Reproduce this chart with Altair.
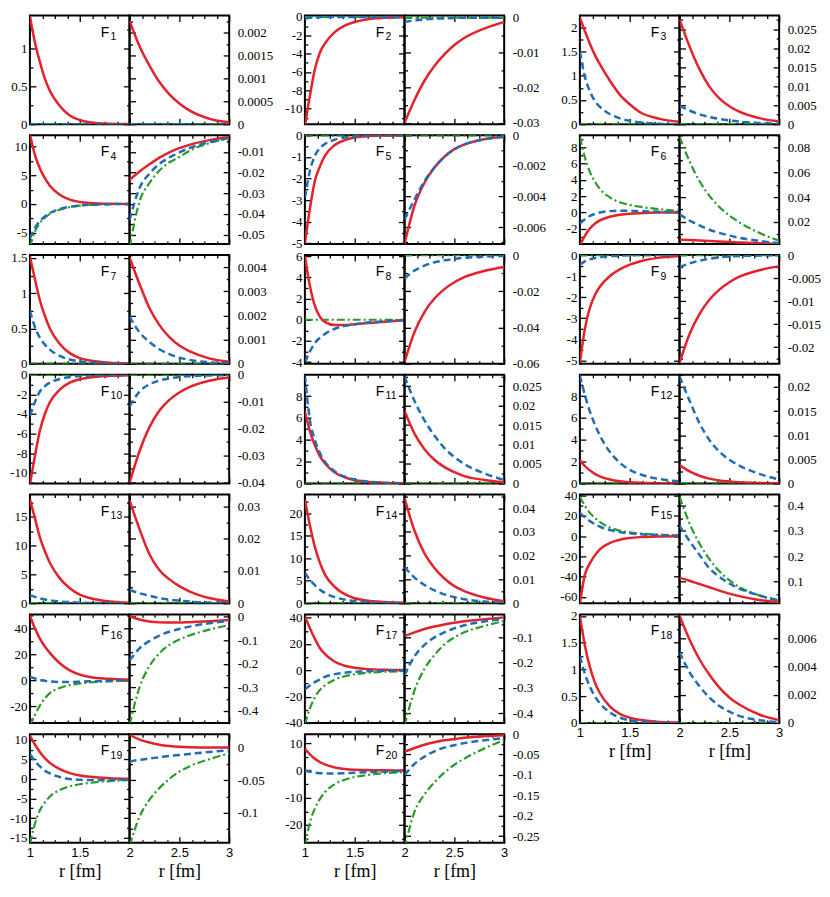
import math
import altair as alt
import pandas as pd

# ---------------- sample radii ----------------
R_LEFT = [1.0, 1.05, 1.1, 1.15, 1.2, 1.3, 1.4, 1.5, 1.6, 1.8, 2.0]
R_RIGHT = [2.0, 2.1, 2.2, 2.3, 2.4, 2.5, 2.6, 2.8, 3.0]
ZERO_L = [0, 0, 0, 0, 0, 0, 0, 0, 0, 0, 0]
ZERO_R = [0, 0, 0, 0, 0, 0, 0, 0, 0]

# ---------------- F1 ----------------
F1_L_DOMAIN = [0, 1.43]
F1_L_STEP = 0.5
F1_L_RED = [1.42, 1.08, 0.82, 0.6, 0.44, 0.24, 0.115, 0.055, 0.026, 0.006, 0.001]
F1_L_BLUE = ZERO_L
F1_L_GREEN = ZERO_L
F1_R_DOMAIN = [0, 0.00237]
F1_R_STEP = 0.0005
F1_R_RED = [0.00226, 0.0017, 0.00128, 0.00092, 0.00065, 0.00045, 0.0003, 0.00012, 0.00004]
F1_R_BLUE = ZERO_R
F1_R_GREEN = ZERO_R

# ---------------- F2 ----------------
F2_L_DOMAIN = [-11.7, 0.15]
F2_L_STEP = 2
F2_L_RED = [-11.9, -8.6, -5.7, -3.9, -2.9, -1.65, -0.95, -0.55, -0.3, -0.1, -0.03]
F2_L_BLUE = [-0.2, -0.1, -0.05, -0.02, 0, 0, 0, 0, 0, 0, 0]
F2_L_GREEN = ZERO_L
F2_R_DOMAIN = [-0.0304, 0.0006]
F2_R_STEP = 0.01
F2_R_RED = [-0.0300, -0.0235, -0.0180, -0.0138, -0.0105, -0.0078, -0.0058, -0.0031, -0.0012]
F2_R_BLUE = [-0.0012, -0.0008, -0.0005, -0.0003, -0.0002, -0.0001, 0, 0, 0]
F2_R_GREEN = ZERO_R

# ---------------- F3 ----------------
F3_L_DOMAIN = [0, 2.24]
F3_L_STEP = 0.5
F3_L_RED = [2.2, 1.92, 1.66, 1.43, 1.24, 0.9, 0.61, 0.41, 0.25, 0.11, 0.05]
F3_L_BLUE = [1.5, 0.98, 0.68, 0.48, 0.36, 0.21, 0.12, 0.07, 0.04, 0.01, 0.0]
F3_L_GREEN = ZERO_L
F3_R_DOMAIN = [0, 0.0286]
F3_R_STEP = 0.005
F3_R_RED = [0.0276, 0.0205, 0.0145, 0.0099, 0.0068, 0.0047, 0.0033, 0.0016, 0.0007]
F3_R_BLUE = [0.0048, 0.0036, 0.0026, 0.0019, 0.0014, 0.001, 0.0007, 0.0003, 0.0001]
F3_R_GREEN = ZERO_R

# ---------------- F4 ----------------
F4_L_DOMAIN = [-7, 12]
F4_L_STEP = 5
F4_L_RED = [12.2, 8.6, 6.2, 4.5, 3.2, 1.6, 0.75, 0.35, 0.16, 0.03, 0.005]
F4_L_BLUE = [-6.0, -4.2, -3.0, -2.2, -1.6, -0.9, -0.5, -0.27, -0.15, -0.04, 0.0]
F4_L_GREEN = [-7.5, -4.8, -3.3, -2.4, -1.75, -1.0, -0.55, -0.3, -0.17, -0.05, 0.0]
F4_R_DOMAIN = [-0.0545, -0.002]
F4_R_STEP = 0.01
F4_R_RED = [-0.0236, -0.0195, -0.016, -0.0128, -0.0102, -0.0082, -0.0066, -0.0043, -0.0028]
F4_R_BLUE = [-0.043, -0.0275, -0.0205, -0.0158, -0.0127, -0.0102, -0.0082, -0.0053, -0.0033]
F4_R_GREEN = [-0.056, -0.034, -0.025, -0.019, -0.015, -0.0125, -0.0095, -0.0058, -0.0035]

# ---------------- F5 ----------------
F5_L_DOMAIN = [-5.03, 0]
F5_L_STEP = 1
F5_L_RED = [-5.0, -3.4, -2.1, -1.45, -0.95, -0.45, -0.22, -0.1, -0.05, -0.01, 0.0]
F5_L_BLUE = [-2.9, -1.65, -0.95, -0.6, -0.4, -0.2, -0.1, -0.05, -0.02, 0.0, 0.0]
F5_L_GREEN = ZERO_L
F5_R_DOMAIN = [-0.0071, 0]
F5_R_STEP = 0.002
F5_R_RED = [-0.0071, -0.0046, -0.0031, -0.0021, -0.0014, -0.0009, -0.0006, -0.00025, -0.0001]
F5_R_BLUE = [-0.0055, -0.0042, -0.0030, -0.0021, -0.0014, -0.00092, -0.0006, -0.00026, -0.0001]
F5_R_GREEN = ZERO_R

# ---------------- F6 ----------------
F6_L_DOMAIN = [-3.9, 9.5]
F6_L_STEP = 2
F6_L_RED = [-4.1, -2.9, -2.0, -1.4, -1.0, -0.55, -0.3, -0.17, -0.1, -0.03, -0.01]
F6_L_BLUE = [-1.4, -0.85, -0.45, -0.2, -0.02, 0.15, 0.2, 0.18, 0.14, 0.07, 0.03]
F6_L_GREEN = [9.3, 6.8, 5.0, 3.8, 2.9, 1.85, 1.25, 0.92, 0.7, 0.38, 0.18]
F6_R_DOMAIN = [0.002, 0.09]
F6_R_STEP = 0.02
F6_R_RED = [0.0055, 0.0052, 0.0048, 0.0044, 0.004, 0.0036, 0.0032, 0.0026, 0.0021]
F6_R_BLUE = [0.026, 0.021, 0.017, 0.0135, 0.011, 0.0088, 0.007, 0.0044, 0.0026]
F6_R_GREEN = [0.089, 0.069, 0.053, 0.041, 0.032, 0.025, 0.0195, 0.011, 0.0045]

# ---------------- F7 ----------------
F7_L_DOMAIN = [0, 1.54]
F7_L_STEP = 0.5
F7_L_RED = [1.52, 1.2, 0.9, 0.68, 0.5, 0.28, 0.15, 0.08, 0.045, 0.015, 0.005]
F7_L_BLUE = [0.75, 0.52, 0.37, 0.27, 0.2, 0.11, 0.06, 0.035, 0.02, 0.005, 0.0]
F7_L_GREEN = ZERO_L
F7_R_DOMAIN = [0, 0.0045]
F7_R_STEP = 0.001
F7_R_RED = [0.0044, 0.0033, 0.0023, 0.0016, 0.0011, 0.00075, 0.00052, 0.00022, 0.00008]
F7_R_BLUE = [0.00195, 0.0013, 0.0009, 0.0006, 0.0004, 0.00025, 0.00016, 0.00006, 0.00002]
F7_R_GREEN = ZERO_R

# ---------------- F8 ----------------
F8_L_DOMAIN = [-4.15, 6.1]
F8_L_STEP = 2
F8_L_RED = [6.0, 3.2, 1.3, 0.3, -0.2, -0.5, -0.5, -0.42, -0.33, -0.18, -0.05]
F8_L_BLUE = [-4.0, -3.0, -2.2, -1.7, -1.35, -0.85, -0.58, -0.42, -0.3, -0.15, -0.05]
F8_L_GREEN = ZERO_L
F8_R_DOMAIN = [-0.06, 0]
F8_R_STEP = 0.02
F8_R_RED = [-0.059, -0.0425, -0.0315, -0.024, -0.0188, -0.015, -0.0122, -0.0088, -0.0066]
F8_R_BLUE = [-0.013, -0.0085, -0.0058, -0.004, -0.0029, -0.0021, -0.0015, -0.0008, -0.0004]
F8_R_GREEN = ZERO_R

# ---------------- F9 ----------------
F9_L_DOMAIN = [-5.15, 0]
F9_L_STEP = 1
F9_L_RED = [-5.1, -3.5, -2.5, -1.9, -1.5, -1.0, -0.68, -0.45, -0.3, -0.12, -0.04]
F9_L_BLUE = [-0.45, -0.3, -0.2, -0.14, -0.1, -0.05, -0.025, -0.01, 0.0, 0.0, 0.0]
F9_L_GREEN = ZERO_L
F9_R_DOMAIN = [-0.0236, 0]
F9_R_STEP = 0.005
F9_R_RED = [-0.0234, -0.0172, -0.0128, -0.0097, -0.0075, -0.0059, -0.0047, -0.0033, -0.0024]
F9_R_BLUE = [-0.0026, -0.0018, -0.0012, -0.0008, -0.0005, -0.0003, -0.0002, -0.0001, 0.0]
F9_R_GREEN = ZERO_R

# ---------------- F10 ----------------
F10_L_DOMAIN = [-11.1, 0]
F10_L_STEP = 2
F10_L_RED = [-11.2, -8.3, -5.7, -4.0, -2.8, -1.5, -0.8, -0.45, -0.27, -0.1, -0.03]
F10_L_BLUE = [-4.2, -2.8, -1.7, -1.15, -0.8, -0.42, -0.22, -0.12, -0.07, -0.02, 0.0]
F10_L_GREEN = ZERO_L
F10_R_DOMAIN = [-0.0405, 0]
F10_R_STEP = 0.01
F10_R_RED = [-0.0402, -0.0285, -0.0195, -0.0133, -0.0093, -0.0066, -0.0046, -0.0022, -0.001]
F10_R_BLUE = [-0.0118, -0.0062, -0.0035, -0.0021, -0.0013, -0.0008, -0.0005, -0.0002, -0.0001]
F10_R_GREEN = ZERO_R

# ---------------- F11 ----------------
F11_L_DOMAIN = [0, 9.95]
F11_L_STEP = 2
F11_L_RED = [6.6, 4.8, 3.5, 2.5, 1.85, 1.0, 0.55, 0.3, 0.17, 0.05, 0.02]
F11_L_BLUE = [9.9, 5.8, 4.0, 2.8, 2.0, 1.1, 0.62, 0.35, 0.2, 0.06, 0.02]
F11_L_GREEN = ZERO_L
F11_R_DOMAIN = [0, 0.0279]
F11_R_STEP = 0.005
F11_R_RED = [0.0186, 0.0128, 0.0088, 0.0061, 0.0042, 0.0029, 0.0019, 0.0009, 0.0003]
F11_R_BLUE = [0.0275, 0.0212, 0.0162, 0.0123, 0.0091, 0.0068, 0.005, 0.0026, 0.0009]
F11_R_GREEN = ZERO_R

# ---------------- F12 ----------------
F12_L_DOMAIN = [0, 9.95]
F12_L_STEP = 2
F12_L_RED = [2.15, 1.6, 1.2, 0.88, 0.65, 0.37, 0.2, 0.11, 0.06, 0.02, 0.01]
F12_L_BLUE = [9.9, 8.1, 6.6, 5.4, 4.4, 2.9, 1.9, 1.25, 0.85, 0.4, 0.2]
F12_L_GREEN = ZERO_L
F12_R_DOMAIN = [0, 0.0225]
F12_R_STEP = 0.005
F12_R_RED = [0.0038, 0.0025, 0.0016, 0.001, 0.0006, 0.0004, 0.00025, 0.0001, 0.00003]
F12_R_BLUE = [0.0222, 0.0172, 0.0125, 0.009, 0.0066, 0.0049, 0.0037, 0.002, 0.0008]
F12_R_GREEN = ZERO_R

# ---------------- F13 ----------------
F13_L_DOMAIN = [0, 18.8]
F13_L_STEP = 5
F13_L_RED = [18.0, 14.7, 11.4, 9.0, 7.0, 4.3, 2.6, 1.5, 0.9, 0.3, 0.1]
F13_L_BLUE = [1.4, 1.1, 0.85, 0.65, 0.5, 0.3, 0.18, 0.1, 0.06, 0.02, 0.0]
F13_L_GREEN = ZERO_L
F13_R_DOMAIN = [0, 0.0337]
F13_R_STEP = 0.01
F13_R_RED = [0.032, 0.023, 0.0152, 0.0102, 0.0074, 0.0053, 0.0037, 0.0016, 0.0005]
F13_R_BLUE = [0.0041, 0.0031, 0.0023, 0.0016, 0.0011, 0.0008, 0.0005, 0.0002, 0.0001]
F13_R_GREEN = ZERO_R

# ---------------- F14 ----------------
F14_L_DOMAIN = [0, 24.1]
F14_L_STEP = 5
F14_L_RED = [23.0, 17.3, 12.5, 9.0, 6.4, 3.6, 2.0, 1.1, 0.65, 0.25, 0.1]
F14_L_BLUE = [6.8, 5.2, 4.0, 3.0, 2.3, 1.35, 0.8, 0.45, 0.27, 0.08, 0.02]
F14_L_GREEN = ZERO_L
F14_R_DOMAIN = [0, 0.0457]
F14_R_STEP = 0.01
F14_R_RED = [0.0442, 0.0305, 0.021, 0.0148, 0.0104, 0.0072, 0.0051, 0.0024, 0.0008]
F14_R_BLUE = [0.0152, 0.0108, 0.0077, 0.0054, 0.0037, 0.0025, 0.0017, 0.0007, 0.0002]
F14_R_GREEN = ZERO_R

# ---------------- F15 ----------------
F15_L_DOMAIN = [-66.3, 41]
F15_L_STEP = 20
F15_L_RED = [-67, -38, -27, -19, -13, -6.8, -3.6, -1.9, -1.0, -0.3, -0.1]
F15_L_BLUE = [23, 18.5, 14.8, 11.8, 9.3, 6.0, 4.0, 2.7, 1.9, 1.0, 0.6]
F15_L_GREEN = [39, 30, 23, 18, 14, 8.5, 5.5, 3.7, 2.6, 1.4, 0.8]
F15_R_DOMAIN = [0.014, 0.443]
F15_R_STEP = 0.1
F15_R_RED = [0.114, 0.103, 0.09, 0.077, 0.064, 0.052, 0.042, 0.027, 0.017]
F15_R_BLUE = [0.32, 0.26, 0.205, 0.152, 0.118, 0.092, 0.072, 0.045, 0.025]
F15_R_GREEN = [0.435, 0.33, 0.25, 0.188, 0.14, 0.105, 0.078, 0.045, 0.023]

# ---------------- F16 ----------------
F16_L_DOMAIN = [-33, 50.7]
F16_L_STEP = 20
F16_L_RED = [50, 40, 32, 26, 21, 13, 7.5, 4.3, 2.5, 1.0, 0.4]
F16_L_BLUE = [2.8, 1.3, 0.2, -0.5, -1.0, -1.4, -1.4, -1.2, -0.9, -0.5, -0.2]
F16_L_GREEN = [-35, -27, -19.5, -14, -10, -6, -3.8, -2.6, -1.8, -0.9, -0.4]
F16_R_DOMAIN = [-0.452, 0.01]
F16_R_STEP = 0.1
F16_R_RED = [0.003, -0.012, -0.02, -0.024, -0.025, -0.025, -0.023, -0.019, -0.014]
F16_R_BLUE = [-0.186, -0.135, -0.103, -0.08, -0.064, -0.052, -0.042, -0.028, -0.018]
F16_R_GREEN = [-0.46, -0.3, -0.21, -0.155, -0.12, -0.097, -0.08, -0.055, -0.035]

# ---------------- F17 ----------------
F17_L_DOMAIN = [-40, 42.5]
F17_L_STEP = 20
F17_L_RED = [41, 32, 24, 17, 12.5, 6.5, 3.5, 1.9, 1.1, 0.4, 0.2]
F17_L_BLUE = [-14.5, -11.5, -9, -7, -5.0, -2.9, -1.8, -1.2, -0.8, -0.35, -0.15]
F17_L_GREEN = [-41, -29, -20.5, -15, -11.5, -7, -4.5, -3.0, -2.1, -1.1, -0.6]
F17_R_DOMAIN = [-0.439, -0.009]
F17_R_STEP = 0.1
F17_R_RED = [-0.095, -0.08, -0.067, -0.057, -0.049, -0.042, -0.036, -0.028, -0.021]
F17_R_BLUE = [-0.25, -0.175, -0.13, -0.1, -0.08, -0.064, -0.052, -0.037, -0.027]
F17_R_GREEN = [-0.45, -0.31, -0.225, -0.17, -0.128, -0.1, -0.08, -0.055, -0.035]

# ---------------- F18 ----------------
F18_L_DOMAIN = [0, 2.03]
F18_L_STEP = 0.5
F18_L_RED = [2.0, 1.45, 1.05, 0.76, 0.56, 0.31, 0.17, 0.1, 0.06, 0.02, 0.01]
F18_L_BLUE = [1.25, 0.92, 0.68, 0.5, 0.37, 0.2, 0.1, 0.05, 0.025, 0.005, 0.0]
F18_L_GREEN = ZERO_L
F18_R_DOMAIN = [0, 0.00767]
F18_R_STEP = 0.002
F18_R_RED = [0.0076, 0.0059, 0.0045, 0.0034, 0.0025, 0.0018, 0.0013, 0.0006, 0.0002]
F18_R_BLUE = [0.005, 0.0036, 0.0026, 0.0018, 0.0012, 0.0008, 0.0005, 0.0002, 0.00005]
F18_R_GREEN = ZERO_R

# ---------------- F19 ----------------
F19_L_DOMAIN = [-16.3, 11.45]
F19_L_STEP = 5
F19_L_RED = [11, 8.8, 6.9, 5.3, 4.1, 2.5, 1.5, 0.9, 0.55, 0.2, 0.08]
F19_L_BLUE = [6.3, 4.6, 3.2, 2.1, 1.4, 0.5, 0.0, -0.2, -0.3, -0.25, -0.15]
F19_L_GREEN = [-16.5, -11.5, -8.0, -6.0, -4.5, -2.8, -1.9, -1.35, -1.0, -0.55, -0.3]
F19_R_DOMAIN = [-0.1457, 0.0203]
F19_R_STEP = 0.05
F19_R_RED = [0.019, 0.012, 0.0075, 0.0042, 0.0022, 0.001, 0.0004, 0.0, 0.0]
F19_R_BLUE = [-0.0215, -0.019, -0.017, -0.015, -0.013, -0.0115, -0.01, -0.007, -0.0045]
F19_R_GREEN = [-0.15, -0.106, -0.08, -0.062, -0.048, -0.037, -0.029, -0.018, -0.009]

# ---------------- F20 ----------------
F20_L_DOMAIN = [-26.5, 13.3]
F20_L_STEP = 10
F20_L_RED = [7.9, 5.9, 4.3, 3.1, 2.2, 1.1, 0.55, 0.27, 0.13, 0.03, 0.0]
F20_L_BLUE = [0.0, -0.5, -0.8, -1.0, -1.1, -1.1, -1.0, -0.85, -0.7, -0.4, -0.25]
F20_L_GREEN = [-28, -19, -14, -10.5, -8, -5, -3.4, -2.4, -1.8, -1.0, -0.6]
F20_R_DOMAIN = [-0.266, 0]
F20_R_STEP = 0.05
F20_R_RED = [-0.043, -0.034, -0.026, -0.02, -0.015, -0.012, -0.009, -0.005, -0.003]
F20_R_BLUE = [-0.1, -0.073, -0.055, -0.042, -0.033, -0.027, -0.022, -0.015, -0.01]
F20_R_GREEN = [-0.28, -0.19, -0.148, -0.118, -0.094, -0.075, -0.06, -0.035, -0.014]

COLUMNS = [[1, 4, 7, 10, 13, 16, 19], [2, 5, 8, 11, 14, 17, 20], [3, 6, 9, 12, 15, 18]]
BOTTOM_PANELS = [19, 20, 18]
X_LABELS_LEFT = [1, 1.5]
X_LABELS_RIGHT = [2, 2.5, 3]

# ---------------- style ----------------
W = 100
H = 109
COL_GAP = 75.5
ROW_SPACING = 11.2
RED = "#e3232b"
BLUE = "#1f6db4"
GREEN = "#299b29"
SERIF = "Liberation Serif"
SANS = "Liberation Sans"


def grid_values(lo, hi, step):
    k0 = math.ceil(lo / step - 1e-9)
    k1 = math.floor(hi / step + 1e-9)
    return [round(k * step, 10) for k in range(k0, k1 + 1)]


def tick_axis(orient, offset, values, step):
    test = f"abs(datum.value / {step} - round(datum.value / {step})) < 1e-6"
    return alt.Axis(orient=orient, offset=offset, values=values, labels=False,
                    domain=False, grid=False, ticks=True, title=None,
                    tickColor="black", tickWidth=1.3,
                    tickSize={"condition": {"test": test, "value": 6}, "value": 3})


def half_panel(n, side, bottom):
    g = globals()
    pre = f"F{n}_{side}_"
    r = R_LEFT if side == "L" else R_RIGHT
    xdom = [1, 2] if side == "L" else [2, 3]
    ydom = g[pre + "DOMAIN"]
    ystep = g[pre + "STEP"]
    xs = alt.Scale(domain=xdom, nice=False, zero=False)
    ys = alt.Scale(domain=ydom, nice=False, zero=False)
    yminor = grid_values(ydom[0], ydom[1], ystep / 2)
    ymajor = grid_values(ydom[0], ydom[1], ystep)
    xminor = grid_values(xdom[0], xdom[1], 0.125)

    y_left_ticks = tick_axis("right", -W, yminor, ystep)
    y_right_ticks = tick_axis("left", -W, yminor, ystep)
    x_bottom_ticks = tick_axis("top", -H, xminor, 0.5)
    x_top_ticks = tick_axis("bottom", -H, xminor, 0.5)
    y_labels = alt.Axis(orient="left" if side == "L" else "right", values=ymajor,
                        ticks=False, domain=False, grid=False, title=None,
                        labelFont=SERIF, labelFontSize=13, labelColor="black",
                        labelPadding=3 if side == "L" else 8, labelOverlap=False,
                        labelExpr="'' + datum.value")
    if bottom:
        x_labels = alt.Axis(orient="bottom",
                            values=X_LABELS_LEFT if side == "L" else X_LABELS_RIGHT,
                            ticks=False, domain=False, grid=False, title="r [fm]",
                            labelFont=SANS, labelFontSize=13, labelColor="black",
                            labelPadding=4, labelFlush=False, labelOverlap=False,
                            labelExpr="'' + datum.value",
                            titleFont=SERIF, titleFontSize=18, titleFontWeight="normal",
                            titleColor="black", titlePadding=3)
    else:
        x_labels = None

    def line(vals, color, width, xaxis, yaxis, dash=None):
        df = pd.DataFrame({"r": r, "v": vals})
        kw = dict(color=color, strokeWidth=width, clip=True, interpolate="monotone")
        if dash:
            kw["strokeDash"] = dash
        return alt.Chart(df).mark_line(**kw).encode(
            x=alt.X("r:Q", scale=xs, axis=xaxis),
            y=alt.Y("v:Q", scale=ys, axis=yaxis),
        )

    layers = [
        line(g[pre + "GREEN"], GREEN, 2.2, x_labels, y_labels, [8, 3, 2, 3]),
        line(g[pre + "RED"], RED, 2.5, x_bottom_ticks, y_left_ticks),
        line(g[pre + "BLUE"], BLUE, 2.5, x_top_ticks, y_right_ticks, [7, 4]),
    ]
    if side == "L":
        layers.append(
            alt.Chart(pd.DataFrame({"t": ["F"]})).mark_text(
                font=SANS, fontSize=14, align="left", baseline="alphabetic", color="black"
            ).encode(x=alt.value(71), y=alt.value(21), text="t:N")
        )
        layers.append(
            alt.Chart(pd.DataFrame({"t": [str(n)]})).mark_text(
                font=SANS, fontSize=10.5, align="left", baseline="alphabetic", color="black"
            ).encode(x=alt.value(81), y=alt.value(24.5), text="t:N")
        )
    return alt.layer(*layers).resolve_scale(x="independent", y="independent").properties(
        width=W, height=H
    )


def spacer(width):
    return alt.Chart(pd.DataFrame({"a": [0]})).mark_point(opacity=0).encode(
        x=alt.value(0), y=alt.value(0)
    ).properties(width=width, height=H, view=alt.ViewBackground(stroke="transparent"))


cells = []
n_rows = max(len(c) for c in COLUMNS)
for i in range(n_rows):
    for c, col in enumerate(COLUMNS):
        if i < len(col):
            n = col[i]
            bottom = n in BOTTOM_PANELS
            cells.append(half_panel(n, "L", bottom))
            cells.append(half_panel(n, "R", bottom))
        else:
            cells.append(spacer(W))
            cells.append(spacer(W))
        if c < len(COLUMNS) - 1:
            cells.append(spacer(COL_GAP))

chart = alt.concat(*cells, columns=8, spacing={"row": ROW_SPACING, "column": 0},
                   bounds="flush").properties(
    padding={"left": 0, "top": 0, "right": 0, "bottom": 0}
).configure_view(stroke="black", strokeWidth=2)

chart.save("out.html", embed_options={"renderer": "svg", "actions": False})
